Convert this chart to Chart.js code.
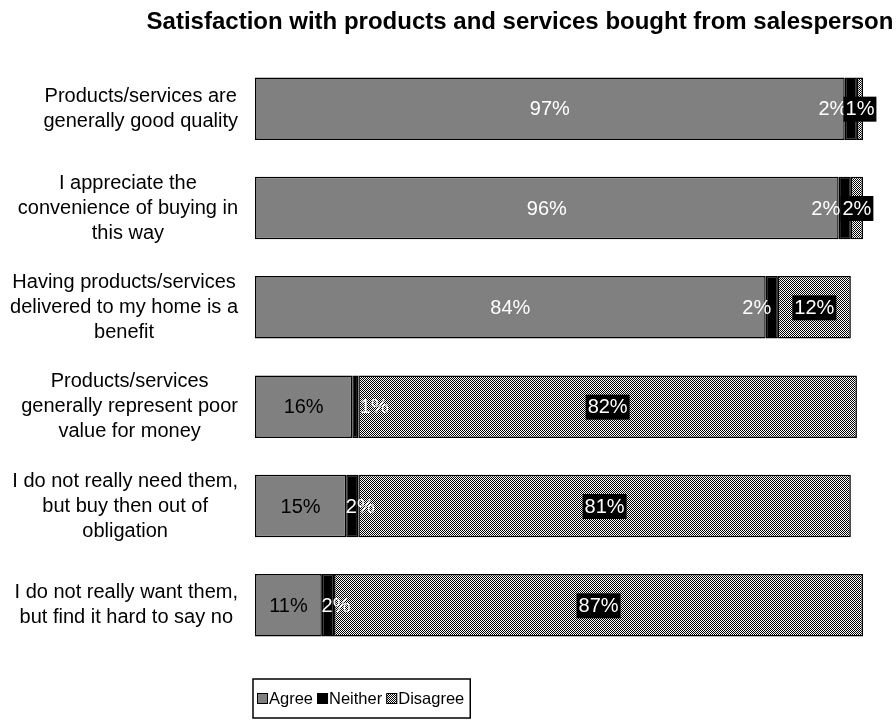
<!DOCTYPE html>
<html>
<head>
<meta charset="utf-8">
<title>Satisfaction with products and services</title>
<script src="https://cdn.jsdelivr.net/npm/chart.js@4.4.0/dist/chart.umd.min.js"></script>
<style>
  html, body { margin: 0; padding: 0; background: #fff; }
  #wrap { width: 896px; height: 723px; }
</style>
</head>
<body>
<div id="wrap"><canvas id="bar-chart" width="896" height="723"></canvas></div>
<script>
const titleText = 'Satisfaction with products and services bought from salesperson';
const statements = [
  ['Products/services are', 'generally good quality'],
  ['I appreciate the', 'convenience of buying in', 'this way'],
  ['Having products/services', 'delivered to my home is a', 'benefit'],
  ['Products/services', 'generally represent poor', 'value for money'],
  ['I do not really need them,', 'but buy then out of', 'obligation'],
  ['I do not really want them,', 'but find it hard to say no']
];
const seriesNames = ['Agree', 'Neither', 'Disagree'];
const agree    = [97, 96, 84, 16, 15, 11];
const neither  = [2, 2, 2, 1, 2, 2];
const disagree = [1, 2, 12, 82, 81, 87];

// the Neither slices are too thin for their labels, so push them aside a bit
const neitherLabelShift = [-18, -19, -15, 19, 8, 8];

const FONT = "'Liberation Sans', Arial, sans-serif";

const canvas = document.getElementById('bar-chart');

// 1px black/white checker used for the Disagree fill
function checkerPattern() {
  const c = document.createElement('canvas');
  c.width = 2; c.height = 2;
  const g = c.getContext('2d');
  g.fillStyle = '#ffffff'; g.fillRect(0, 0, 2, 2);
  g.fillStyle = '#000000'; g.fillRect(0, 0, 1, 1); g.fillRect(1, 1, 1, 1);
  return canvas.getContext('2d').createPattern(c, 'repeat');
}
const dotted = checkerPattern();
const fills = ['#808080', '#000000', dotted];

// category text: each block centred on itself, blocks right-aligned against the bars
const categoryText = {
  id: 'categoryText',
  afterDraw(chart) {
    const ctx = chart.ctx;
    const yScale = chart.scales.y;
    const right = chart.chartArea.left - 17;
    const lh = 25;
    ctx.save();
    ctx.font = '20px ' + FONT;
    ctx.fillStyle = '#000000';
    ctx.textAlign = 'center';
    ctx.textBaseline = 'middle';
    chart.data.labels.forEach((lines, i) => {
      const w = Math.max(...lines.map(l => ctx.measureText(l).width));
      const cx = right - w / 2;
      const cy = yScale.getPixelForValue(i);
      lines.forEach((l, k) => {
        ctx.fillText(l, cx, cy + (k - (lines.length - 1) / 2) * lh);
      });
    });
    ctx.restore();
  }
};

const barLabels = {
  id: 'barLabels',
  afterDatasetsDraw(chart) {
    const ctx = chart.ctx;
    ctx.save();
    ctx.font = '20px ' + FONT;
    ctx.textBaseline = 'middle';
    ctx.textAlign = 'center';
    chart.data.datasets.forEach((ds, di) => {
      chart.getDatasetMeta(di).data.forEach((bar, i) => {
        const v = ds.data[i];
        const txt = v + '%';
        const p = bar.getProps(['x', 'y', 'base'], true);
        let cx = (p.x + p.base) / 2;
        const cy = p.y + 1;
        if (di === 0) {
          ctx.fillStyle = v > 50 ? '#ffffff' : '#000000';
          ctx.fillText(txt, cx, cy);
        } else if (di === 1) {
          cx += neitherLabelShift[i];
          ctx.fillStyle = '#ffffff';
          ctx.fillText(txt, cx, cy);
        } else {
          const w = ctx.measureText(txt).width + 4;
          ctx.fillStyle = '#000000';
          ctx.fillRect(cx - w / 2, p.y - 12, w, 25);
          ctx.fillStyle = '#ffffff';
          ctx.fillText(txt, cx, cy);
        }
      });
    });
    ctx.restore();
  }
};

const titleAndKey = {
  id: 'titleAndKey',
  afterDraw(chart) {
    const ctx = chart.ctx;
    ctx.save();
    // title
    ctx.font = 'bold 24px ' + FONT;
    ctx.fillStyle = '#000000';
    ctx.textAlign = 'center';
    ctx.textBaseline = 'middle';
    ctx.fillText(titleText, 520, 22);

    // boxed legend under the plot
    ctx.font = '16.5px ' + FONT;
    ctx.textAlign = 'left';
    const boxX = 253, boxY = 679, boxH = 39, sw = 11;
    let x = boxX + 4;
    const midY = boxY + boxH / 2;
    chart.data.datasets.forEach((ds, i) => {
      ctx.fillStyle = ds.backgroundColor;
      ctx.fillRect(x, midY - sw / 2, sw, sw);
      ctx.strokeStyle = '#000000';
      ctx.lineWidth = 1;
      ctx.strokeRect(x + 0.5, midY - sw / 2 + 0.5, sw - 1, sw - 1);
      x += sw + 1;
      ctx.fillStyle = '#000000';
      ctx.fillText(ds.label, x, midY + 1);
      x += ctx.measureText(ds.label).width + (i < 2 ? 4 : 6);
    });
    ctx.strokeStyle = '#000000';
    ctx.lineWidth = 1.5;
    ctx.strokeRect(boxX, boxY, x - boxX, boxH);
    ctx.restore();
  }
};

new Chart(canvas, {
  type: 'bar',
  data: {
    labels: statements,
    datasets: [
      { label: seriesNames[0], data: agree,    backgroundColor: fills[0] },
      { label: seriesNames[1], data: neither,  backgroundColor: fills[1] },
      { label: seriesNames[2], data: disagree, backgroundColor: fills[2] }
    ]
  },
  options: {
    indexAxis: 'y',
    responsive: false,
    animation: false,
    devicePixelRatio: 1,
    layout: { padding: { top: 59, right: 33, bottom: 68, left: 0 } },
    datasets: {
      bar: {
        categoryPercentage: 1,
        barPercentage: 0.63,
        borderColor: '#000000',
        borderWidth: 1.5,
        borderSkipped: false
      }
    },
    scales: {
      x: { stacked: true, min: 0, max: 100, display: false },
      y: {
        stacked: true,
        grid: { display: false },
        border: { display: false },
        afterFit(scale) { scale.width = 255; },
        ticks: { display: false, autoSkip: false }
      }
    },
    plugins: {
      legend: { display: false },
      title: { display: false },
      tooltip: { enabled: false }
    }
  },
  plugins: [categoryText, barLabels, titleAndKey]
});
</script>
</body>
</html>
